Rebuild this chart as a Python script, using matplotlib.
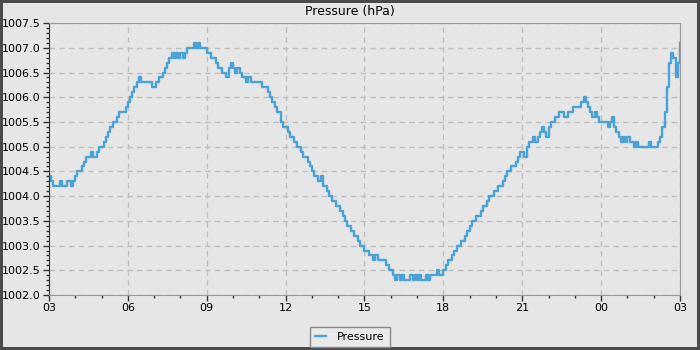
import matplotlib
matplotlib.use('Agg')
import matplotlib.pyplot as plt
import matplotlib.dates as mdates
from matplotlib.ticker import MultipleLocator
import pandas as pd

# pressure readings every 5 minutes, one row per hour, starting 03:00
pressure = [
    1004.4, 1004.3, 1004.2, 1004.2, 1004.2, 1004.3, 1004.2, 1004.2, 1004.3, 1004.3, 1004.2, 1004.3,  # 03
    1004.4, 1004.5, 1004.5, 1004.6, 1004.7, 1004.8, 1004.8, 1004.9, 1004.8, 1004.8, 1004.9, 1005.0,  # 04
    1005.0, 1005.1, 1005.2, 1005.3, 1005.4, 1005.5, 1005.5, 1005.6, 1005.7, 1005.7, 1005.7, 1005.8,  # 05
    1005.9, 1006.0, 1006.1, 1006.2, 1006.3, 1006.4, 1006.3, 1006.3, 1006.3, 1006.3, 1006.3, 1006.2,  # 06
    1006.2, 1006.3, 1006.4, 1006.4, 1006.5, 1006.6, 1006.7, 1006.8, 1006.9, 1006.8, 1006.9, 1006.8,  # 07
    1006.9, 1006.8, 1006.9, 1007.0, 1007.0, 1007.0, 1007.1, 1007.0, 1007.1, 1007.0, 1007.0, 1007.0,  # 08
    1006.9, 1006.9, 1006.8, 1006.8, 1006.7, 1006.6, 1006.6, 1006.5, 1006.5, 1006.4, 1006.6, 1006.7,  # 09
    1006.6, 1006.5, 1006.6, 1006.5, 1006.4, 1006.4, 1006.3, 1006.4, 1006.3, 1006.3, 1006.3, 1006.3,  # 10
    1006.3, 1006.2, 1006.2, 1006.2, 1006.1, 1006.0, 1005.9, 1005.8, 1005.7, 1005.7, 1005.5, 1005.4,  # 11
    1005.4, 1005.3, 1005.2, 1005.2, 1005.1, 1005.0, 1005.0, 1004.9, 1004.8, 1004.8, 1004.7, 1004.6,  # 12
    1004.5, 1004.4, 1004.4, 1004.3, 1004.4, 1004.2, 1004.2, 1004.1, 1004.0, 1003.9, 1003.9, 1003.8,  # 13
    1003.8, 1003.7, 1003.6, 1003.5, 1003.4, 1003.4, 1003.3, 1003.2, 1003.2, 1003.1, 1003.0, 1003.0,  # 14
    1002.9, 1002.9, 1002.8, 1002.8, 1002.7, 1002.8, 1002.7, 1002.7, 1002.7, 1002.7, 1002.6, 1002.5,  # 15
    1002.5, 1002.4, 1002.3, 1002.4, 1002.3, 1002.4, 1002.3, 1002.3, 1002.3, 1002.4, 1002.3, 1002.4,  # 16
    1002.3, 1002.4, 1002.3, 1002.3, 1002.4, 1002.3, 1002.4, 1002.4, 1002.4, 1002.5, 1002.4, 1002.4,  # 17
    1002.5, 1002.6, 1002.7, 1002.7, 1002.8, 1002.9, 1003.0, 1003.0, 1003.1, 1003.1, 1003.2, 1003.3,  # 18
    1003.4, 1003.5, 1003.5, 1003.6, 1003.6, 1003.7, 1003.8, 1003.8, 1003.9, 1004.0, 1004.0, 1004.1,  # 19
    1004.1, 1004.2, 1004.2, 1004.3, 1004.4, 1004.5, 1004.5, 1004.6, 1004.6, 1004.7, 1004.8, 1004.9,  # 20
    1004.9, 1004.8, 1005.0, 1005.1, 1005.1, 1005.2, 1005.1, 1005.2, 1005.3, 1005.4, 1005.3, 1005.2,  # 21
    1005.4, 1005.5, 1005.5, 1005.6, 1005.6, 1005.7, 1005.7, 1005.6, 1005.6, 1005.7, 1005.7, 1005.8,  # 22
    1005.8, 1005.8, 1005.8, 1005.9, 1006.0, 1005.9, 1005.8, 1005.7, 1005.6, 1005.7, 1005.6, 1005.5,  # 23
    1005.5, 1005.5, 1005.5, 1005.4, 1005.5, 1005.6, 1005.4, 1005.3, 1005.2, 1005.1, 1005.2, 1005.1,  # 00
    1005.2, 1005.1, 1005.1, 1005.0, 1005.1, 1005.0, 1005.0, 1005.0, 1005.0, 1005.0, 1005.1, 1005.0,  # 01
    1005.0, 1005.0, 1005.1, 1005.2, 1005.4, 1005.7, 1006.2, 1006.7, 1006.9, 1006.8, 1006.4, 1006.7,  # 02
    1007.1,                                                                                          # 03
]
times = pd.date_range('2024-01-01 03:00', periods=len(pressure), freq='5min')

bg = '#e6e6e6'
fig = plt.figure(figsize=(7, 3.5), dpi=100, facecolor=bg)
fig.patch.set_edgecolor('#4a4a4a')
fig.patch.set_linewidth(3)
ax = fig.add_axes([0.07, 0.157, 0.9014, 0.777])
ax.set_facecolor(bg)

ax.plot(times, pressure, drawstyle='steps-post', color='#4aa3d6', lw=1.7, label='Pressure')

ax.set_xlim(times[0], times[-1])
ax.set_ylim(1002.0, 1007.5)
ax.yaxis.set_major_locator(MultipleLocator(0.5))
ax.yaxis.set_minor_locator(MultipleLocator(0.1))
ax.yaxis.set_major_formatter(matplotlib.ticker.FormatStrFormatter('%.1f'))
ax.xaxis.set_major_locator(mdates.HourLocator(byhour=range(0, 24, 3)))
ax.xaxis.set_minor_locator(mdates.HourLocator())
ax.xaxis.set_major_formatter(mdates.DateFormatter('%H'))

ax.grid(True, which='major', color='#c0c0c0', linestyle=(0, (4, 3)), lw=1)
ax.tick_params(which='major', length=4, width=1, color='#333333', labelsize=8, pad=2)
ax.tick_params(which='minor', length=2, width=1, color='#333333')
for side in ['top', 'right', 'bottom']:
    ax.spines[side].set_color('#999999')
ax.spines['left'].set_color('#333333')

# title is centred on the whole figure, not the axes
fig.text(0.5, 0.967, 'Pressure (hPa)', fontsize=9, ha='center', va='center')

leg = fig.legend(loc='lower center', bbox_to_anchor=(0.5, 0.008), fontsize=8,
                 frameon=True, fancybox=False, handlelength=1.0, borderpad=0.45,
                 handletextpad=1.0, borderaxespad=0)
leg.get_frame().set_edgecolor('#888888')
leg.get_frame().set_facecolor('#eaeaea')
leg.get_frame().set_alpha(1)

fig.savefig('out.png', dpi=100, facecolor=fig.get_facecolor(), edgecolor=fig.get_edgecolor())
